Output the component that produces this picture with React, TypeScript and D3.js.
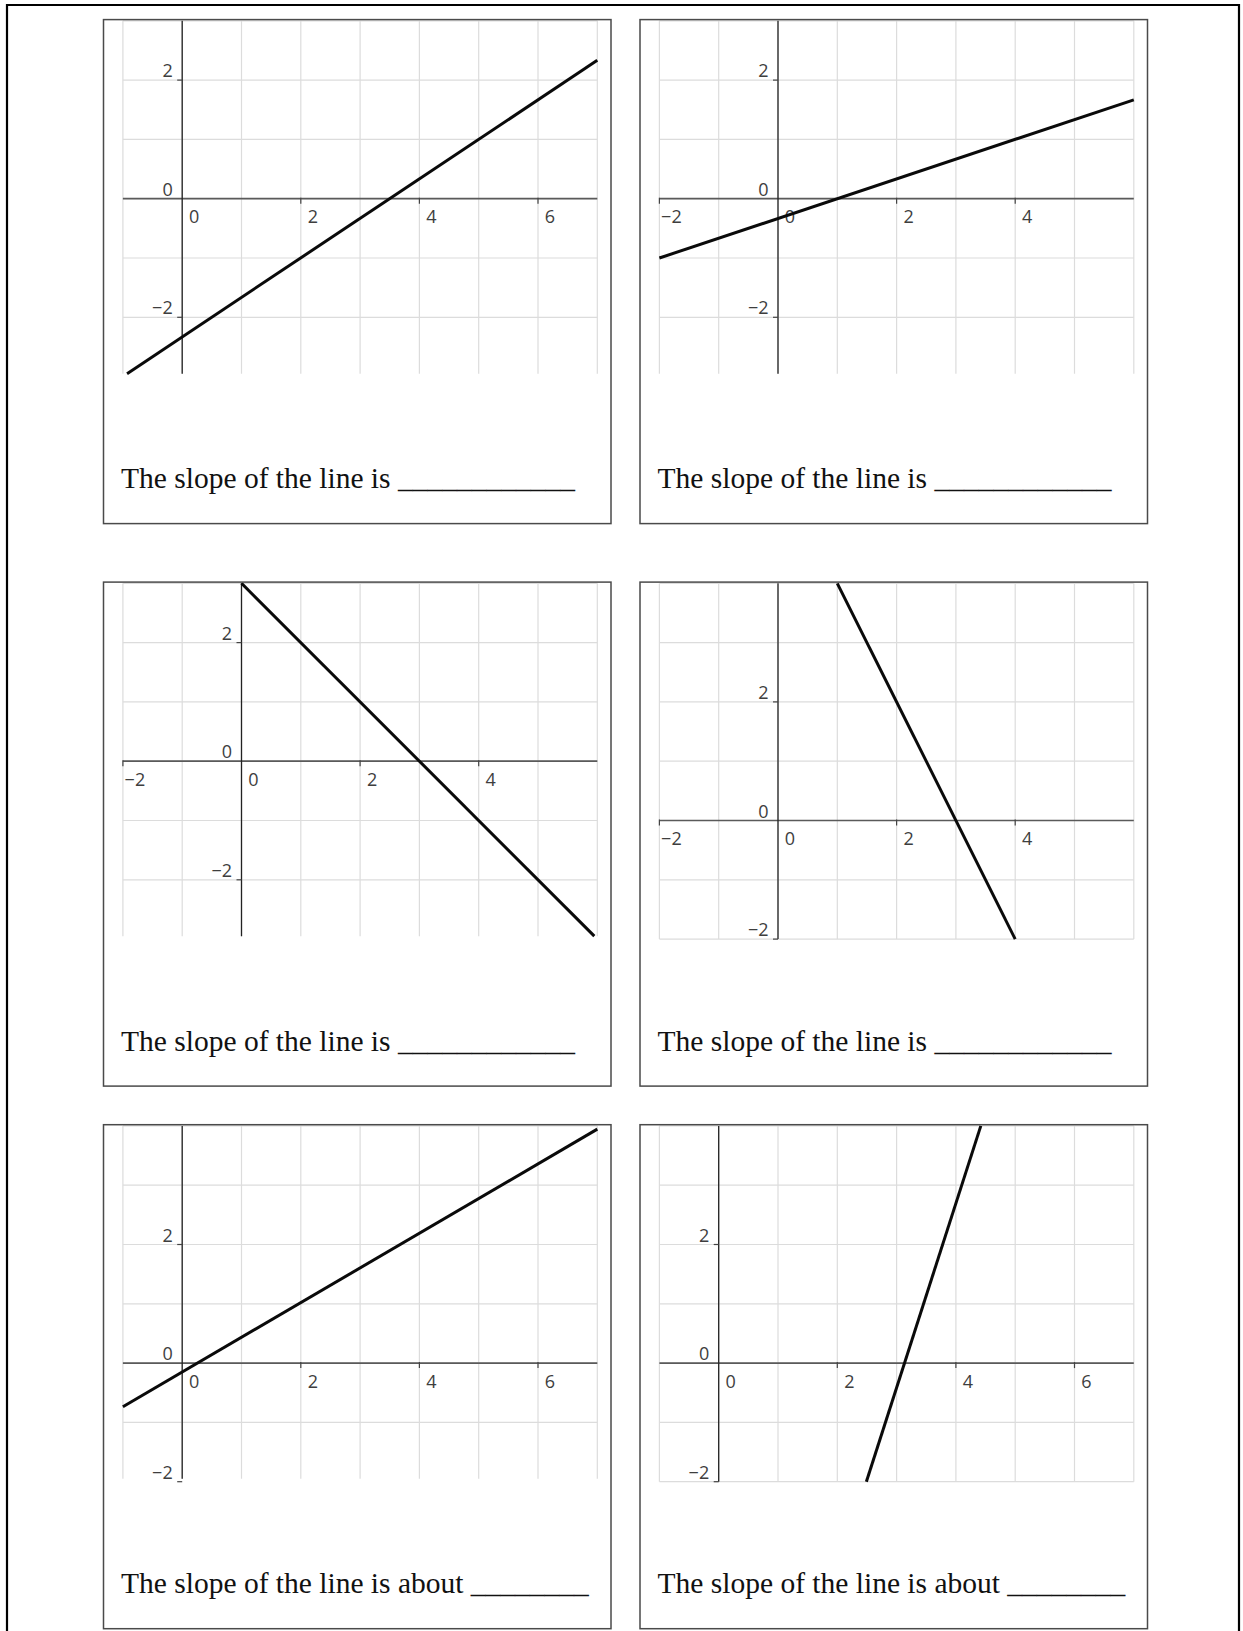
import React from 'react';
import * as d3 from 'd3';

// ---- data ----
const panelNames = ['p1', 'p2', 'p3', 'p4', 'p5', 'p6'];
const xDomains: [number, number][] = [[-1, 7], [-2, 6], [-2, 6], [-2, 6], [-1, 7], [-1, 7]];
const yDomains: [number, number][] = [[-2.95, 3], [-2.95, 3], [-2.95, 3], [-2, 4], [-1.95, 4], [-2, 4]];
const lineStarts: [number, number][] = [[-0.93, -2.95], [-2, -1], [0, 3], [1, 4], [-1, -0.735], [2.49, -2]];
const lineEnds: [number, number][] = [[7, 2.333], [6, 1.667], [5.95, -2.95], [4, -2], [7, 3.945], [4.42, 4]];
const xTickLabels: number[][] = [[0, 2, 4, 6], [-2, 0, 2, 4], [-2, 0, 2, 4], [-2, 0, 2, 4], [0, 2, 4, 6], [0, 2, 4, 6]];
const yTickLabels: number[] = [2, 0, -2];
const captions: string[] = [
  'The slope of the line is',
  'The slope of the line is',
  'The slope of the line is',
  'The slope of the line is',
  'The slope of the line is about',
  'The slope of the line is about',
];
const blanks: string[] = [
  '____________',
  '____________',
  '____________',
  '____________',
  '________',
  '________',
];

// ---- layout ----
const W = 1243;
const H = 1631;
const UNIT = 59.3;
const colX = [103.5, 640];
const rowY = [19.6, 582.1, 1124.7];
const boxW = 507.5;
const boxH = 504;
const gridOffX = 19.4;
const gridOffY = 1.2;
const captionDy = 468.5;
const captionDx = 17.5;

const fmt = d3.format('d');

function Panel({ i }: { i: number }) {
  const col = i % 2;
  const row = Math.floor(i / 2);
  const bx = colX[col];
  const by = rowY[row];
  const xd = xDomains[i];
  const yd = yDomains[i];
  const gx0 = bx + gridOffX;
  const gy0 = by + gridOffY;
  const x = d3.scaleLinear().domain(xd).range([gx0, gx0 + (xd[1] - xd[0]) * UNIT]);
  const y = d3.scaleLinear().domain(yd).range([gy0 + (yd[1] - yd[0]) * UNIT, gy0]);
  const xr = x.range();
  const yr = y.range();
  const vx = d3.range(Math.ceil(xd[0]), Math.floor(xd[1]) + 1);
  const hy = d3.range(Math.ceil(yd[0]), Math.floor(yd[1]) + 1);
  const line = d3.line<[number, number]>().x((d) => x(d[0])).y((d) => y(d[1]));
  const clipId = `clip-${panelNames[i]}`;
  const ax = x(0);
  const ay = y(0);
  return (
    <g>
      <defs>
        <clipPath id={clipId}>
          <rect x={xr[0] - 2} y={yr[1] - 2} width={xr[1] - xr[0] + 4} height={yr[0] - yr[1] + 4} />
        </clipPath>
      </defs>
      {/* grid */}
      {vx.map((v) => (
        <line key={'v' + v} x1={x(v)} x2={x(v)} y1={yr[1]} y2={yr[0]} stroke="#dcdcdc" strokeWidth={1.2} />
      ))}
      {hy.map((v) => (
        <line key={'h' + v} x1={xr[0]} x2={xr[1]} y1={y(v)} y2={y(v)} stroke="#dcdcdc" strokeWidth={1.2} />
      ))}
      {/* axes */}
      <line x1={xr[0]} x2={xr[1]} y1={ay} y2={ay} stroke="#5a5a5a" strokeWidth={1.7} />
      <line x1={ax} x2={ax} y1={yr[1]} y2={yr[0]} stroke="#222" strokeWidth={1.3} />
      {/* ticks */}
      {xTickLabels[i].filter((v) => v !== 0).map((v) => (
        <line key={'xt' + v} x1={x(v)} x2={x(v)} y1={ay - 1} y2={ay + 5} stroke="#444" strokeWidth={1.2} />
      ))}
      {yTickLabels.filter((v) => v !== 0).map((v) => (
        <line key={'yt' + v} x1={ax - 5} x2={ax} y1={y(v)} y2={y(v)} stroke="#444" strokeWidth={1.2} />
      ))}
      {/* tick labels */}
      {xTickLabels[i].map((v) => (
        <text key={'xl' + v} x={x(v) + 12} y={ay + 24.5} textAnchor="middle" fontFamily="'Open Sans', sans-serif" fontSize={18} fill="#3e3e3e">
          {fmt(v)}
        </text>
      ))}
      {yTickLabels.map((v) => (
        <text key={'yl' + v} x={ax - 9.5} y={y(v) - 3} textAnchor="end" fontFamily="'Open Sans', sans-serif" fontSize={18} fill="#3e3e3e">
          {fmt(v)}
        </text>
      ))}
      {/* the line */}
      <path d={line([lineStarts[i], lineEnds[i]]) || ''} stroke="#0a0a0a" strokeWidth={3} fill="none" clipPath={`url(#${clipId})`} />
      {/* box */}
      <rect x={bx} y={by} width={boxW} height={boxH} fill="none" stroke="#4a4a4a" strokeWidth={1.5} />
      {/* caption */}
      <text x={bx + captionDx} y={by + captionDy} fontFamily="'Liberation Serif', 'Times New Roman', serif" fontSize={29.5} fill="#111">
        {captions[i] + ' ' + blanks[i]}
      </text>
    </g>
  );
}

export default function App() {
  return (
    <svg
      width={W}
      height={H}
      viewBox={`0 0 ${W} ${H}`}
      style={{ position: 'absolute', left: 0, top: 0, display: 'block', background: '#fff' }}
    >
      <rect x={0} y={0} width={W} height={H} fill="#fff" />
      <path d={`M7,${H + 10} L7,5 L1239,5 L1239,${H + 10}`} fill="none" stroke="#000" strokeWidth={2.2} />
      {panelNames.map((n, i) => (
        <Panel key={n} i={i} />
      ))}
    </svg>
  );
}
